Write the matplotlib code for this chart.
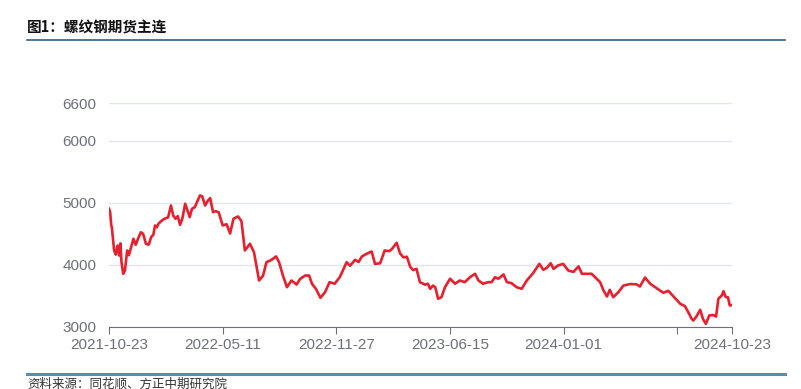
import matplotlib
matplotlib.use("Agg")
import matplotlib.pyplot as plt
import pandas as pd

plt.rcParams["font.family"] = ["Noto Sans CJK SC", "DejaVu Sans"]

TITLE = "图1：螺纹钢期货主连"
SOURCE = "资料来源：同花顺、方正中期研究院"

dates = [
    "2021-10-23", "2021-10-25", "2021-10-27", "2021-10-28", "2021-11-01", "2021-11-04",
    "2021-11-07", "2021-11-10", "2021-11-12", "2021-11-14", "2021-11-17", "2021-11-20",
    "2021-11-24", "2021-11-27", "2021-12-01", "2021-12-05", "2021-12-09", "2021-12-13",
    "2021-12-18", "2021-12-22", "2021-12-27", "2022-01-01", "2022-01-05", "2022-01-09",
    "2022-01-12", "2022-01-15", "2022-01-18", "2022-01-24", "2022-01-30", "2022-02-04",
    "2022-02-09", "2022-02-13", "2022-02-17", "2022-02-21", "2022-02-25", "2022-03-01",
    "2022-03-06", "2022-03-10", "2022-03-14", "2022-03-18", "2022-03-23", "2022-03-28",
    "2022-04-01", "2022-04-05", "2022-04-10", "2022-04-15", "2022-04-19", "2022-04-24",
    "2022-04-29", "2022-05-04", "2022-05-11", "2022-05-18", "2022-05-24", "2022-05-30",
    "2022-06-07", "2022-06-13", "2022-06-19", "2022-06-28", "2022-07-05", "2022-07-14",
    "2022-07-21", "2022-07-27", "2022-08-04", "2022-08-13", "2022-08-18", "2022-08-25",
    "2022-09-01", "2022-09-09", "2022-09-18", "2022-09-24", "2022-10-03", "2022-10-10",
    "2022-10-15", "2022-10-22", "2022-10-30", "2022-11-07", "2022-11-15", "2022-11-24",
    "2022-12-03", "2022-12-15", "2022-12-21", "2022-12-30", "2023-01-05", "2023-01-11",
    "2023-01-19", "2023-01-28", "2023-02-03", "2023-02-12", "2023-02-20", "2023-02-28",
    "2023-03-05", "2023-03-13", "2023-03-19", "2023-03-25", "2023-03-31", "2023-04-06",
    "2023-04-11", "2023-04-17", "2023-04-23", "2023-05-02", "2023-05-07", "2023-05-11",
    "2023-05-16", "2023-05-20", "2023-05-25", "2023-05-31", "2023-06-06", "2023-06-15",
    "2023-06-24", "2023-07-02", "2023-07-11", "2023-07-20", "2023-07-29", "2023-08-04",
    "2023-08-12", "2023-08-21", "2023-08-27", "2023-09-02", "2023-09-08", "2023-09-17",
    "2023-09-23", "2023-10-01", "2023-10-10", "2023-10-19", "2023-10-28", "2023-11-08",
    "2023-11-19", "2023-11-26", "2023-12-02", "2023-12-09", "2023-12-14", "2023-12-22",
    "2023-12-31", "2024-01-09", "2024-01-18", "2024-01-27", "2024-02-02", "2024-02-10",
    "2024-02-19", "2024-02-28", "2024-03-05", "2024-03-11", "2024-03-17", "2024-03-22",
    "2024-03-28", "2024-04-06", "2024-04-15", "2024-04-27", "2024-05-08", "2024-05-14",
    "2024-05-23", "2024-06-01", "2024-06-12", "2024-06-24", "2024-07-03", "2024-07-12",
    "2024-07-24", "2024-08-01", "2024-08-07", "2024-08-13", "2024-08-16", "2024-08-22",
    "2024-08-28", "2024-09-02", "2024-09-07", "2024-09-13", "2024-09-20", "2024-09-25",
    "2024-09-29", "2024-10-05", "2024-10-08", "2024-10-12", "2024-10-16", "2024-10-19",
    "2024-10-23",
]
prices = [
    4900, 4845, 4630, 4600, 4226, 4160,
    4306, 4145, 4340, 4037, 3850, 3900,
    4226, 4150, 4280, 4415, 4318, 4415,
    4520, 4495, 4334, 4320, 4440, 4480,
    4630, 4600, 4657, 4710, 4745, 4760,
    4952, 4790, 4738, 4780, 4640, 4740,
    4980, 4870, 4765, 4900, 4925, 5032,
    5113, 5100, 4952, 5030, 5070, 4845,
    4860, 4840, 4630, 4650, 4500, 4738,
    4775, 4700, 4226, 4334, 4200, 3742,
    3820, 4037, 4070, 4130, 4040, 3822,
    3634, 3742, 3677, 3765, 3822, 3822,
    3690, 3608, 3463, 3553, 3715, 3690,
    3795, 4037, 3980, 4076, 4040, 4130,
    4172, 4210, 4010, 4020, 4226, 4215,
    4253, 4350, 4180, 4115, 4125, 3960,
    3910, 3930, 3715, 3675, 3690, 3608,
    3660, 3634, 3447, 3475, 3634, 3770,
    3690, 3742, 3715, 3795, 3850, 3742,
    3690, 3715, 3715, 3795, 3770, 3840,
    3715, 3700, 3634, 3608, 3742, 3860,
    4010, 3915, 3945, 4020, 3930, 3985,
    4010, 3903, 3880, 3970, 3850, 3850,
    3850, 3770, 3715, 3580, 3484, 3592,
    3473, 3553, 3660, 3685, 3680, 3645,
    3790, 3690, 3620, 3545, 3575, 3485,
    3366, 3330, 3231, 3124, 3097, 3170,
    3270, 3120, 3043, 3178, 3185, 3161,
    3447, 3500, 3570, 3475, 3470, 3340,
    3345,
]
x_ticks = ["2021-10-23", "2022-05-11", "2022-11-27", "2023-06-15", "2024-01-01", "2024-07-19", "2024-10-23"]
x_labels = ["2021-10-23", "2022-05-11", "2022-11-27", "2023-06-15", "2024-01-01", "", "2024-10-23"]
y_ticks = [3000, 4000, 5000, 6000, 6600]

gray = "#6e7079"

fig = plt.figure(figsize=(8.01, 3.89), dpi=100)
ax = fig.add_axes([109 / 801, 1 - 326.5 / 389, 623 / 801, 223.2 / 389])

ax.plot(pd.to_datetime(dates), prices, color="#e6202e", lw=1.9, solid_joinstyle="round")

ax.set_xlim(pd.Timestamp(x_ticks[0]), pd.Timestamp(x_ticks[-1]))
ax.set_ylim(3000, 6600)
ax.set_yticks(y_ticks)
ax.set_xticks(pd.to_datetime(x_ticks))
ax.set_xticklabels(x_labels)
ax.grid(axis="y", color="#e0e6f1", lw=1)
ax.set_axisbelow(True)
for s in ["top", "right", "left"]:
    ax.spines[s].set_visible(False)
ax.spines["bottom"].set_color(gray)
ax.tick_params(axis="y", length=0, pad=9, labelsize=11, labelcolor=gray)
ax.tick_params(axis="x", length=5, color=gray, pad=3, labelsize=11, labelcolor=gray)
for t in ax.get_xticklabels() + ax.get_yticklabels():
    t.set_fontfamily(["Liberation Sans", "DejaVu Sans"])

fig.text(27 / 801, 1 - 28 / 389, TITLE, fontsize=10.5, fontweight="bold", color="#111111", va="center")
fig.add_artist(plt.Line2D([27 / 801, 785 / 801], [1 - 39.5 / 389] * 2, color="#2f5f86", lw=1.2))
fig.add_artist(plt.Line2D([27 / 801, 785 / 801], [1 - 374 / 389] * 2, color="#5b8caf", lw=2.2))
fig.text(27 / 801, 1 - 384 / 389, SOURCE, fontsize=9, color="#333333", va="center")

fig.savefig("out.png", dpi=100)
